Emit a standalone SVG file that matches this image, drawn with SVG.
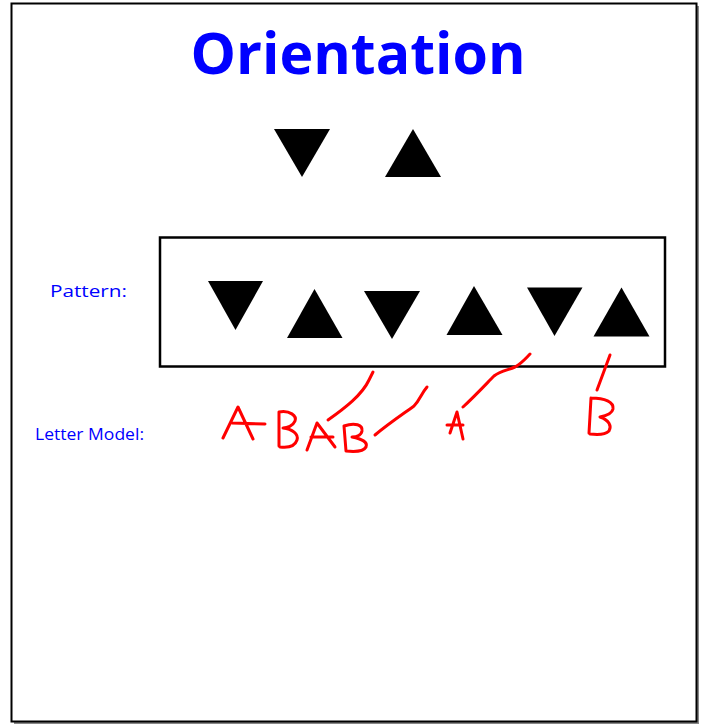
<svg xmlns="http://www.w3.org/2000/svg" width="706" height="725" viewBox="0 0 706 725">
<style>
.lbl{font-family:"Open Sans","Liberation Sans",sans-serif;fill:#0000FF}
.tri{fill:#000}
.ink{fill:none;stroke:#FF0000;stroke-width:3;stroke-linecap:round;stroke-linejoin:round}
</style>
<rect x="0" y="0" width="706" height="725" fill="#fff"/>
<g id="frame">
<rect x="14" y="6" width="685" height="718" fill="#888"/>
<rect x="11.5" y="3.5" width="685" height="718" fill="#fff" stroke="#000" stroke-width="2"/>
</g>
<g id="title"><text class="lbl" x="358" y="74" font-size="58" font-weight="bold" text-anchor="middle" textLength="335" lengthAdjust="spacingAndGlyphs">Orientation</text></g>
<g id="top-triangles">
<polygon class="tri" points="274,129 330,129 302,177"/>
<polygon class="tri" points="413,129 441,177 385,177"/>
</g>
<g id="pattern-label"><text class="lbl" x="50" y="297" font-size="17" textLength="77" lengthAdjust="spacingAndGlyphs">Pattern:</text></g>
<g id="pattern-box">
<rect x="160" y="237.5" width="505" height="129" fill="none" stroke="#000" stroke-width="2.5"/>
<polygon class="tri" points="208,281 263,281 235.5,330"/>
<polygon class="tri" points="314.5,289 342.5,338 287,338"/>
<polygon class="tri" points="364,291 420,291 392,339"/>
<polygon class="tri" points="474,286 502.5,335 446.5,335"/>
<polygon class="tri" points="527,287.5 582.5,287.5 554.5,336"/>
<polygon class="tri" points="621.5,287.5 649.5,336.5 593.5,336.5"/>
</g>
<g id="letter-label"><text class="lbl" x="35" y="440" font-size="16" textLength="109" lengthAdjust="spacingAndGlyphs">Letter Model:</text></g>
<g id="letters">
<path class="ink" d="M223,438 L238,407 L253,439 M232,423 L265,424"/>
<path class="ink" d="M279,412 L279,446 M279,412 C290,410 297,416 295,421 C293,426 287,428 283,428 C292,429 299,434 297,440 C295,446 288,448 280,447"/>
<path class="ink" d="M307,450 L317,423 L335,447 M311,437 L333,437"/>
<path class="ink" d="M344,426 L346,451 M344,426 C355,422 363,425 362,431 C361,436 355,437 352,437 C362,439 368,442 366,447 C364,451 356,452 346,451"/>
<path class="ink" d="M450,433 L457,412 L463,439 M447,425 L463,425"/>
<path class="ink" d="M591,398 L589,433 M591,398 C605,398 614,402 613,409 C612,414 605,416 600,417 C609,420 612,426 609,431 C606,434 598,435 590,434"/>
</g>
<g id="connectors">
<path class="ink" d="M328,420 C345,408 362,395 369,380 C371,376 372,374 373,372"/>
<path class="ink" d="M375,435 C388,424 403,414 414,406 C420,400 421,394 427,387"/>
<path class="ink" d="M463,407 C475,396 488,382 494,376 C500,371 508,370 515,367 C522,363 526,358 530,354"/>
<path class="ink" d="M597,390 L610,355"/>
</g>
</svg>
